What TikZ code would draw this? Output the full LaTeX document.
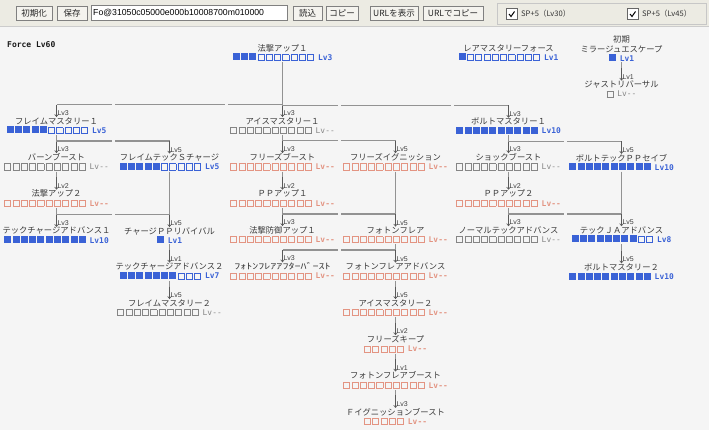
\documentclass[tikz,border=0pt]{standalone}
\usepackage{fontspec}
\usepackage{graphicx}
\setmainfont{Noto Sans CJK JP}
\newfontfamily\monof{DejaVu Sans Mono}
\newfontfamily\latinf{Liberation Sans}
\usetikzlibrary{arrows.meta}
\definecolor{skblue}{HTML}{3A62D6}
\definecolor{skgray}{HTML}{858585}
\definecolor{sksal}{HTML}{E39482}
\definecolor{txt}{HTML}{3A3A3A}
\definecolor{lnc}{HTML}{929292}
\definecolor{bgc}{HTML}{F5F5F5}
\definecolor{tbc}{HTML}{ECEBE3}
\newcommand\myrep[2]{\ifnum#1>0\relax#2\expandafter\myrep\expandafter{\the\numexpr#1-1\relax}{#2}\fi}
\newcommand\fsq{\rule{7pt}{7pt}\hspace{1.3pt}}
\newcommand\osq{{\setlength\fboxsep{0pt}\setlength\fboxrule{0.85pt}\fbox{\rule{0pt}{5.3pt}\rule{5.3pt}{0pt}}}\hspace{1.3pt}}
\newcommand\lvfont{\monof\bfseries\fontsize{7.9}{9}\selectfont}
\newcommand\barB[3]{{\color{skblue}\myrep{#1}{\fsq}\myrep{#2}{\osq}\hspace{2.5pt}{\lvfont #3}}}
\newcommand\barG[1]{{\color{skgray}\myrep{#1}{\osq}\hspace{2.5pt}{\monof\fontsize{7.9}{9}\selectfont Lv-{}-}}}
\newcommand\barR[1]{{\color{sksal}\myrep{#1}{\osq}\hspace{2.5pt}{\lvfont Lv-{}-}}}
\tikzset{
  skill/.style={align=center, inner sep=0pt, anchor=south, text=txt, font=\fontsize{8.3}{9.2}\selectfont},
  conn/.style={draw=lnc, line width=1.5pt},
  arr/.style={draw=black!65, line width=0.6pt, -{Straight Barb[length=2.2pt,width=3.6pt]}},
  lvl/.style={font=\latinf\fontsize{7}{8}\selectfont, text=black!75, inner sep=0pt, anchor=south west},
  cut/.style={fill=bgc, draw=none},
  btn/.style={draw=black!50, fill=tbc!60!white, inner sep=0pt, font=\fontsize{8.5}{9}\selectfont, minimum height=14pt, text=black!85},
}
\newcommand\link[3]{%
  \draw[conn] ([yshift=-1pt]#1.south) |- ([yshift=12.5pt]#2.north);
  \draw[arr] ([yshift=12.5pt]#2.north) -- (#2.north);
  \node[lvl] at ([xshift=0.8pt,yshift=1.2pt]#2.north) {#3};}
\newcommand\join[2]{\draw[conn] ([yshift=-1pt]#1.south) |- ([yshift=12.5pt]#2.north);}
\begin{document}
\begin{tikzpicture}[x=1pt,y=-1pt]
\useasboundingbox (0,0) rectangle (709,430);
\fill[bgc] (0,0) rectangle (709,430);
% toolbar
\fill[tbc] (0,0) rectangle (709,26);
\draw[black!20] (0,26) -- (709,26);
\node[btn, minimum width=36pt] (bInit) at (34,13) {初期化};
\node[btn, minimum width=30pt] (bSave) at (72,13) {保存};
\node[draw=black!50, fill=white, minimum width=196pt, minimum height=15pt, inner sep=0pt] (field) at (189,12.5) {};
\node[anchor=west, inner sep=0pt, font=\latinf\fontsize{8.7}{10}\selectfont, text=black] (fieldtxt) at (93,12.5) {Fo@31050c05000e000b10008700m010000};
\node[btn, minimum width=29pt] (bLoad) at (307.5,13) {読込};
\node[btn, minimum width=32pt] (bCopy) at (342,13) {コピー};
\node[btn, minimum width=48pt] (bUrl) at (394,13) {URLを表示};
\node[btn, minimum width=60pt] (bUrlC) at (453,13) {URLでコピー};
\draw[black!22] (497,3) rectangle (706,24);
\node[draw=black!60, fill=white, minimum size=11pt, inner sep=0pt] (cb1) at (512,14) {};
\draw[black, line width=1pt] ([xshift=-3pt]cb1.center) -- ++(2,2.5) -- ++(3.5,-5);
\node[anchor=west, inner sep=0pt, font=\fontsize{7.6}{8}\selectfont, text=black!80] (cbt1) at (521,14) {SP+5（Lv30）};
\node[draw=black!60, fill=white, minimum size=11pt, inner sep=0pt] (cb2) at (633,14) {};
\draw[black, line width=1pt] ([xshift=-3pt]cb2.center) -- ++(2,2.5) -- ++(3.5,-5);
\node[anchor=west, inner sep=0pt, font=\fontsize{7.6}{8}\selectfont, text=black!80] (cbt2) at (642,14) {SP+5（Lv45）};
% title
\node[anchor=west, inner sep=0pt, font=\monof\bfseries\fontsize{8}{9}\selectfont, text=black!90] (title) at (7,45) {Force Lv60};
% skills  columns 56.5,169.5,282.5,395.5,508.5,621.5 ; rows S(k)=61.5+36.4k
\node[skill] (hou1) at (282.5,61.5) {法撃アップ１\\\barB{3}{7}{Lv3}};
\node[skill] (rare) at (508.5,61.5) {レアマスタリーフォース\\\barB{1}{9}{Lv1}};
\node[skill] (mirage) at (621.5,61.5) {初期\\ミラージュエスケープ\\\barB{1}{0}{Lv1}};
\node[skill] (just) at (621.5,97.9) {ジャストリバーサル\\\barG{1}};
\node[skill] (fm1) at (56.5,134.3) {フレイムマスタリー１\\\barB{5}{5}{Lv5}};
\node[skill] (im1) at (282.5,134.3) {アイスマスタリー１\\\barG{10}};
\node[skill] (bm1) at (508.5,134.3) {ボルトマスタリー１\\\barB{10}{0}{Lv10}};
\node[skill] (burn) at (56.5,170.7) {バーンブースト\\\barG{10}};
\node[skill] (ftsc) at (169.5,170.7) {フレイムテックＳチャージ\\\barB{5}{5}{Lv5}};
\node[skill] (fb) at (282.5,170.7) {フリーズブースト\\\barR{10}};
\node[skill] (fi) at (395.5,170.7) {フリーズイグニッション\\\barR{10}};
\node[skill] (sb) at (508.5,170.7) {ショックブースト\\\barG{10}};
\node[skill] (btpp) at (621.5,170.7) {ボルトテックＰＰセイブ\\\barB{10}{0}{Lv10}};
\node[skill] (hou2) at (56.5,207.1) {法撃アップ２\\\barR{10}};
\node[skill] (pp1) at (282.5,207.1) {ＰＰアップ１\\\barR{10}};
\node[skill] (pp2) at (508.5,207.1) {ＰＰアップ２\\\barR{10}};
\node[skill] (tca1) at (56.5,243.5) {テックチャージアドバンス１\\\barB{10}{0}{Lv10}};
\node[skill] (cppr) at (169.5,243.5) {チャージＰＰリバイバル\\\barB{1}{0}{Lv1}};
\node[skill] (hbd) at (282.5,243.5) {法撃防御アップ１\\\barR{10}};
\node[skill] (pf) at (395.5,243.5) {フォトンフレア\\\barR{10}};
\node[skill] (nta) at (508.5,243.5) {ノーマルテックアドバンス\\\barG{10}};
\node[skill] (tja) at (621.5,243.5) {テックＪＡアドバンス\\\barB{8}{2}{Lv8}};
\node[skill] (tca2) at (169.5,279.9) {テックチャージアドバンス２\\\barB{7}{3}{Lv7}};
\node[skill] (pfab) at (282.5,279.9) {\scalebox{1.45}[1]{ﾌｫﾄﾝﾌﾚｱｱﾌﾀｰﾊﾞｰｽﾄ}\\\barR{10}};
\node[skill] (pfa) at (395.5,279.9) {フォトンフレアアドバンス\\\barR{10}};
\node[skill] (bm2) at (621.5,279.9) {ボルトマスタリー２\\\barB{10}{0}{Lv10}};
\node[skill] (fm2) at (169.5,316.3) {フレイムマスタリー２\\\barG{10}};
\node[skill] (im2) at (395.5,316.3) {アイスマスタリー２\\\barR{10}};
\node[skill] (fk) at (395.5,352.7) {フリーズキープ\\\barR{5}};
\node[skill] (pfb) at (395.5,389.1) {フォトンフレアブースト\\\barR{10}};
\node[skill] (fib) at (395.5,425.5) {Ｆイグニッションブースト\\\barR{5}};
% connectors
\link{mirage}{just}{Lv1}
\link{hou1}{fm1}{Lv3}
\link{hou1}{im1}{Lv3}
\link{hou1}{bm1}{Lv3}
\link{fm1}{burn}{Lv3}
\link{fm1}{ftsc}{Lv5}
\link{burn}{hou2}{Lv2}
\link{hou2}{tca1}{Lv3}
\join{hou2}{cppr}
\link{ftsc}{cppr}{Lv5}
\link{cppr}{tca2}{Lv1}
\link{tca2}{fm2}{Lv5}
\link{im1}{fb}{Lv3}
\link{im1}{fi}{Lv5}
\link{fb}{pp1}{Lv2}
\link{pp1}{hbd}{Lv3}
\join{pp1}{pf}
\link{fi}{pf}{Lv5}
\link{pf}{pfab}{Lv3}
\link{pf}{pfa}{Lv5}
\link{pfa}{im2}{Lv5}
\link{im2}{fk}{Lv2}
\link{fk}{pfb}{Lv1}
\link{pfb}{fib}{Lv3}
\link{bm1}{sb}{Lv3}
\link{bm1}{btpp}{Lv5}
\link{sb}{pp2}{Lv2}
\link{pp2}{nta}{Lv3}
\join{pp2}{tja}
\link{btpp}{tja}{Lv5}
\link{tja}{bm2}{Lv5}
% cell-boundary gaps in horizontal rules
\foreach \h in {im1,fb,hbd,pfab}{
  \path ([yshift=12.5pt]\h.north) ++(0,-2) coordinate (ht);
  \foreach \gx in {111.5,224.5,337.5,450.5,563.5}{
    \fill[cut] (ht -| \gx,0) rectangle ++(3,4);
  }
}
\end{tikzpicture}
\end{document}
